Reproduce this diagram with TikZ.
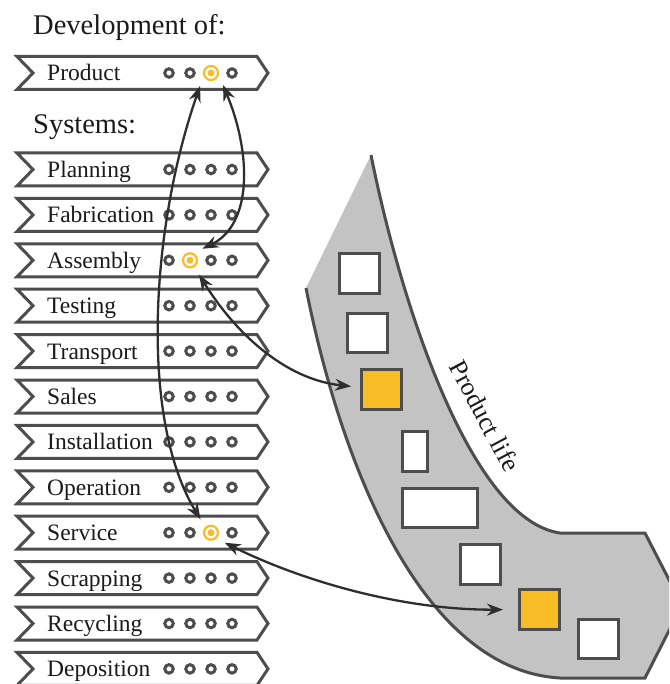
\documentclass[tikz,border=0pt]{standalone}
\usepackage{fontspec}
\setmainfont{Liberation Serif}
\usetikzlibrary{arrows.meta}

\definecolor{lineg}{HTML}{4D4D4D}
\definecolor{arrowc}{HTML}{2E2E2E}
\definecolor{bandc}{HTML}{C4C3C4}
\definecolor{hl}{HTML}{F8BC26}
\definecolor{txt}{HTML}{1A1A1A}

\tikzset{
  bannershape/.pic={
    \draw[bannerline] (17,-16.5) -- (257,-16.5) -- (268,0) -- (257,16.5)
      -- (17,16.5) -- (33,0) -- cycle;
  }
}

\begin{document}
\begin{tikzpicture}[x=1pt,y=-1pt,
  bannerline/.style={draw=lineg, line width=3pt, fill=white, line join=miter},
  lbl/.style={anchor=base west, inner sep=0pt, font=\fontsize{23.5}{27}\selectfont, text=txt},
  head/.style={anchor=base west, inner sep=0pt, font=\fontsize{28.5}{32}\selectfont, text=txt},
  dotc/.style={circle, draw=lineg, line width=3pt, fill=white, minimum size=8.5pt, inner sep=0pt},
  ring/.style={circle, draw=hl, line width=2.2pt, fill=white, minimum size=14pt,
    inner sep=0pt, outer sep=10pt,
    path picture={\fill[hl] (path picture bounding box.center) circle (3.5pt);}},
  sq/.style={draw=lineg, line width=3pt, fill=white, inner sep=0pt},
  sqhl/.style={sq, fill=hl},
  bandline/.style={draw=lineg, line width=3pt},
  conn/.style={draw=arrowc, line width=2.3pt,
    {Stealth[length=16pt,width=12pt]}-{Stealth[length=16pt,width=12pt]}},
]
\useasboundingbox (0,0) rectangle (669,684);

% product life band
\begin{scope}
  \clip (0,0) rectangle (669,684);
  \fill[bandc] (371,155) .. controls (400,300) and (470,520) .. (560,533)
    -- (645,533) -- (682,605) -- (645,678) -- (560,678)
    .. controls (420,670) and (340,460) .. (306,288) -- cycle;
  \draw[bandline] (371,155) .. controls (400,300) and (470,520) .. (560,533)
    -- (645,533) -- (682,605) -- (645,678) -- (560,678)
    .. controls (420,670) and (340,460) .. (306,288);
\end{scope}
\node[rotate=-62, font=\fontsize{26}{30}\selectfont, text=txt] (pl) at (485,416) {Product life};

% product instances along the life cycle
\node[sq,   minimum width=40pt, minimum height=40pt] (s1) at (359.5,273.5) {};
\node[sq,   minimum width=40pt, minimum height=39pt] (s2) at (367.5,333) {};
\node[sqhl, minimum width=40pt, minimum height=40pt] (s3) at (381.5,389.5) {};
\node[sq,   minimum width=25pt, minimum height=40pt] (s4) at (415,451.5) {};
\node[sq,   minimum width=75pt, minimum height=39pt] (s5) at (440,508) {};
\node[sq,   minimum width=40pt, minimum height=40pt] (s6) at (480.5,564.5) {};
\node[sqhl, minimum width=40pt, minimum height=40pt] (s7) at (539.5,609.5) {};
\node[sq,   minimum width=40pt, minimum height=39pt] (s8) at (598.5,639) {};

% headings
\node[head] (h1) at (33,35) {Development of:};
\node[head] (h2) at (33,133.5) {Systems:};

% product banner
\pic at (0,73) {bannershape};
\node[lbl] (tp) at (47,81) {Product};
\foreach \k/\x in {1/169,2/190,3/211,4/232}{
  \ifnum\k=3\relax
    \node[ring] (pd-\k) at (\x,73) {};
  \else
    \node[dotc] (pd-\k) at (\x,73) {};
  \fi
}

% system banners
\foreach \lab/\h [count=\i from 0] in {Planning/0,Fabrication/0,Assembly/2,Testing/0,
    Transport/0,Sales/0,Installation/0,Operation/0,Service/3,Scrapping/0,Recycling/0,Deposition/0}{
  \pgfmathsetmacro\cy{169.5+45.4*\i}
  \pic at (0,\cy) {bannershape};
  \node[lbl] (t\i) at (47,\cy+8) {\lab};
  \foreach \k/\x in {1/169,2/190,3/211,4/232}{
    \ifnum\k=\h\relax
      \node[ring] (d\i-\k) at (\x,\cy) {};
    \else
      \node[dotc] (d\i-\k) at (\x,\cy) {};
    \fi
  }
}

% links
\draw[conn] (pd-3.-130) .. controls (150,230) and (140,420) .. (d8-3.128);
\draw[conn] (pd-3.-45) .. controls (252,155) and (252,225) .. (d2-2.43);
\draw[conn, shorten >=9pt] (d2-2.-58) .. controls (240,340) and (290,380) .. (s3);
\draw[conn, shorten >=15pt] (d8-3.-36) .. controls (300,580) and (400,610) .. (s7);
\end{tikzpicture}
\end{document}
